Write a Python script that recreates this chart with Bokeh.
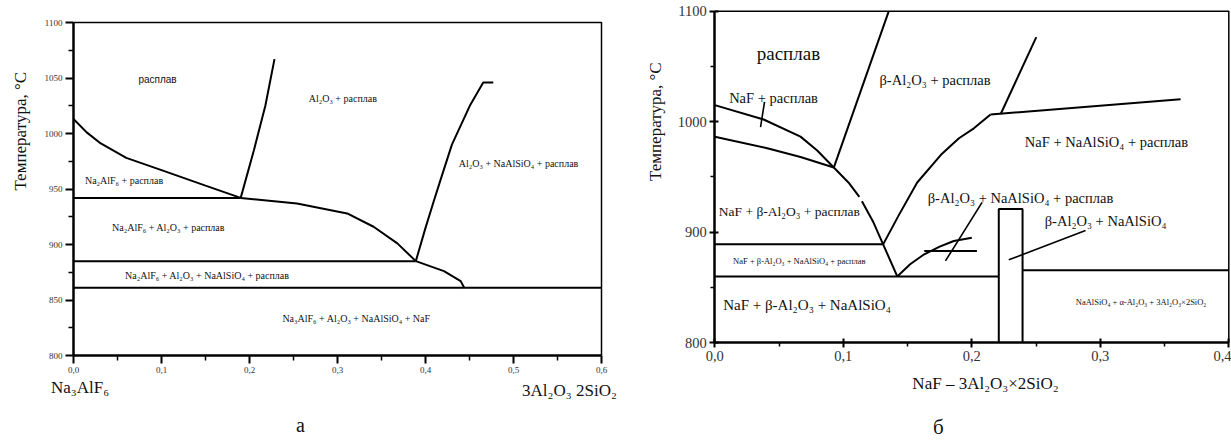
from math import pi
from bokeh.plotting import figure
from bokeh.layouts import row
from bokeh.models import FixedTicker, Label, Range1d, CustomJSTickFormatter
from bokeh.embed import file_html
from bokeh.resources import INLINE

SERIF = "Liberation Serif"
SANS = "Liberation Sans"

# ---------------- Panel а : Na3AlF6 - 3Al2O3 2SiO2 ----------------
a_xticks = [0.0, 0.1, 0.2, 0.3, 0.4, 0.5, 0.6]
a_xminor = [0.05, 0.15, 0.25, 0.35, 0.45, 0.55]
a_yticks = [800, 850, 900, 950, 1000, 1050, 1100]
a_yminor = [825, 875, 925, 975, 1025, 1075]

a_liq1_x = [0.0, 0.015, 0.031, 0.06, 0.1, 0.15, 0.19]
a_liq1_t = [1013, 1001, 991, 978, 967, 953, 942]
a_alk_x = [0.19, 0.205, 0.218, 0.2284]
a_alk_t = [942, 985, 1025, 1067]
a_h942_x = [0.0, 0.19]
a_h942_t = [942, 942]
a_liq2_x = [0.19, 0.254, 0.311, 0.341, 0.368, 0.389]
a_liq2_t = [942, 937, 928, 916, 901, 885]
a_h885_x = [0.0, 0.389]
a_h885_t = [885, 885]
a_liq3_x = [0.389, 0.40, 0.409, 0.417, 0.43, 0.451, 0.4656, 0.477]
a_liq3_t = [885, 915, 938, 958, 990, 1026, 1046, 1046]
a_sol_x = [0.389, 0.421, 0.44, 0.444]
a_sol_t = [885, 876, 867, 861]
a_h861_x = [0.0, 0.6]
a_h861_t = [861, 861]

a_lab_text = ["Na₂AlF₆ + расплав", "Na₂AlF₆ + Al₂O₃ + расплав",
              "Na₂AlF₆ + Al₂O₃ + NaAlSiO₄ + расплав", "Na₃AlF₆ + Al₂O₃ + NaAlSiO₄ + NaF",
              "Al₂O₃ + расплав", "Al₂O₃ + NaAlSiO₄ + расплав"]
a_lab_x = [0.0574, 0.108, 0.152, 0.3216, 0.306, 0.5057]
a_lab_t = [957.7, 915.3, 872, 833.3, 1031.5, 973]

# ---------------- Panel б : NaF - 3Al2O3x2SiO2 ----------------
b_xticks = [0.0, 0.1, 0.2, 0.3, 0.4]
b_xminor = [0.05, 0.15, 0.25, 0.35]
b_yticks = [800, 900, 1000, 1100]
b_yminor = [850, 950, 1050]

b_naf1_x = [0.0, 0.038, 0.0667, 0.0797, 0.0926, 0.104, 0.1125]
b_naf1_t = [1015, 1002, 986.5, 974, 958.5, 945, 932]
b_naf2_x = [0.1145, 0.123, 0.131, 0.142]
b_naf2_t = [928, 910, 889, 860]
b_low_x = [0.0, 0.0408, 0.0667, 0.0926]
b_low_t = [986.4, 976, 968, 958.5]
b_alk_x = [0.0926, 0.1354]
b_alk_t = [958.5, 1100]
b_tick_x = [0.0356, 0.0387]
b_tick_t = [995, 1018]
b_h889_x = [0.0, 0.131]
b_h889_t = [889, 889]
b_h860_x = [0.0, 0.221]
b_h860_t = [860, 860]
b_rect_x = [0.221, 0.221, 0.2395, 0.2395]
b_rect_t = [800, 921, 921, 800]
b_h865_x = [0.2395, 0.4]
b_h865_t = [865.5, 865.5]
b_bliq_x = [0.131, 0.143, 0.1575, 0.176, 0.19, 0.2016, 0.2146]
b_bliq_t = [889, 915, 945, 970, 985, 994, 1006.5]
b_h1007_x = [0.2146, 0.3625]
b_h1007_t = [1006.5, 1020.4]
b_up_x = [0.2225, 0.2502]
b_up_t = [1007, 1076.5]
b_small_x = [0.142, 0.152, 0.163, 0.175, 0.186, 0.2]
b_small_t = [860, 871, 880, 887, 892, 895]
b_h883_x = [0.163, 0.204]
b_h883_t = [883, 883]
b_lead1_x = [0.208, 0.1795]
b_lead1_t = [927, 874]
b_lead2_x = [0.2885, 0.2288]
b_lead2_t = [901.5, 875]

b_lab_text = ["расплав", "NaF + расплав", "β-Al₂O₃ + расплав", "NaF + NaAlSiO₄ + расплав",
              "NaF + β-Al₂O₃ + расплав", "β-Al₂O₃ + NaAlSiO₄ + расплав", "β-Al₂O₃ + NaAlSiO₄",
              "NaF + β-Al₂O₃ + NaAlSiO₄ + расплав", "NaF + β-Al₂O₃ + NaAlSiO₄",
              "NaAlSiO₄ + α-Al₂O₃ + 3Al₂O₃×2SiO₂"]
b_lab_x = [0.0573, 0.0457, 0.1714, 0.3048, 0.058, 0.2379, 0.3041, 0.0658, 0.0718, 0.3317]
b_lab_t = [1061.7, 1021, 1037.3, 982, 918.6, 931, 910, 873.5, 834.5, 836.4]
b_lab_size = ["19px", "14.5px", "14.5px", "14.5px", "13.5px", "14.5px", "14.5px", "8.5px", "15px", "8.5px"]

fmt = CustomJSTickFormatter(code="return tick.toFixed(1).replace('.', ',');")


def make_fig(width, x0_px, x_scale, xt, y0_px, y_scale, yt):
    """Figure whose frame fills the canvas; the panel's axes sit at fixed data locations."""
    xr = Range1d(xt[0] - x0_px / x_scale, xt[0] + (width - x0_px) / x_scale)
    yr = Range1d(yt[-1] - (441 - y0_px) / y_scale, yt[-1] + y0_px / y_scale)
    p = figure(width=width, height=441, output_backend="svg", toolbar_location=None,
               x_range=xr, y_range=yr, min_border=0, min_border_left=0, min_border_right=0,
               min_border_top=0, min_border_bottom=0)
    p.outline_line_color = None
    p.xgrid.visible = False
    p.ygrid.visible = False
    return p


def style(p, xt, xm, yt, ym, lab_size, tin, tout, mout, standoff):
    p.xaxis.ticker = FixedTicker(ticks=xt, minor_ticks=xm)
    p.yaxis.ticker = FixedTicker(ticks=yt, minor_ticks=ym)
    p.xaxis.formatter = fmt
    p.xaxis.fixed_location = yt[0]
    p.yaxis.fixed_location = xt[0]
    p.xaxis.bounds = (xt[0], xt[-1])
    p.yaxis.bounds = (yt[0], yt[-1])
    for ax in (p.xaxis, p.yaxis):
        ax.axis_line_width = 2.5
        ax.axis_line_color = "black"
        ax.major_tick_line_width = 2
        ax.minor_tick_line_width = 1.5
        ax.major_tick_in = tin
        ax.major_tick_out = tout
        ax.minor_tick_in = 0
        ax.minor_tick_out = mout
        ax.major_label_text_font = SERIF
        ax.major_label_text_font_size = lab_size
        ax.major_label_text_color = "#333333"
        ax.major_label_standoff = standoff
    # frame: top and right edges
    p.line([xt[0], xt[-1], xt[-1]], [yt[-1], yt[-1], yt[0]], line_width=1.5, line_color="black")


def add(p, xs, ts, w=2.0):
    p.line(xs, ts, line_width=w, line_color="black")


def lab(p, x, y, text, size, font=SERIF, angle=0.0):
    p.add_layout(Label(x=x, y=y, text=text, text_font=font, text_font_size=size,
                       text_align="center", text_baseline="middle", angle=angle,
                       text_color="#111111"))


# panel а: frame left at 73 px, 0.1 -> 88 px; top (1100) at 22 px, 1 degC -> 1.11 px
pa = make_fig(640, 73, 880, a_xticks, 22, 1.11, a_yticks)
style(pa, a_xticks, a_xminor, a_yticks, a_yminor, "9px", 0, 8, 5, 3)
for xs, ts in [(a_liq1_x, a_liq1_t), (a_alk_x, a_alk_t), (a_h942_x, a_h942_t),
               (a_liq2_x, a_liq2_t), (a_h885_x, a_h885_t), (a_liq3_x, a_liq3_t),
               (a_sol_x, a_sol_t), (a_h861_x, a_h861_t)]:
    add(pa, xs, ts)
lab(pa, 0.0955, 1048.6, "расплав", "10px", SANS)
for t, x, y in zip(a_lab_text, a_lab_x, a_lab_t):
    lab(pa, x, y, t, "10px")
lab(pa, -0.06, 1002, "Температура, °С", "17px", angle=pi / 2)
lab(pa, 0.0074, 771, "Na₃AlF₆", "17px")
lab(pa, 0.5636, 768.5, "3Al₂O₃ 2SiO₂", "17px")
lab(pa, 0.258, 737, "а", "20px")

# panel б: frame left at 714.3-640 px, 0.1 -> 128.5 px; top at 10.7 px, 1 degC -> 1.105 px
pb = make_fig(591, 74.3, 1285, b_xticks, 10.7, 1.105, b_yticks)
style(pb, b_xticks, b_xminor, b_yticks, b_yminor, "14.5px", 4, 5, 4, 3)
for xs, ts in [(b_naf1_x, b_naf1_t), (b_naf2_x, b_naf2_t), (b_low_x, b_low_t),
               (b_alk_x, b_alk_t), (b_h889_x, b_h889_t),
               (b_h860_x, b_h860_t), (b_rect_x, b_rect_t), (b_h865_x, b_h865_t),
               (b_bliq_x, b_bliq_t), (b_h1007_x, b_h1007_t), (b_up_x, b_up_t),
               (b_small_x, b_small_t), (b_h883_x, b_h883_t)]:
    add(pb, xs, ts)
for xs, ts in [(b_tick_x, b_tick_t), (b_lead1_x, b_lead1_t), (b_lead2_x, b_lead2_t)]:
    add(pb, xs, ts, 1.6)
for t, x, y, s in zip(b_lab_text, b_lab_x, b_lab_t, b_lab_size):
    lab(pb, x, y, t, s)
lab(pb, -0.046, 1000, "Температура, °С", "17px", angle=pi / 2)
lab(pb, 0.2107, 763, "NaF – 3Al₂O₃×2SiO₂", "17px")
lab(pb, 0.174, 724, "б", "21px")

layout = row(pa, pb, spacing=0)
open("out.html", "w").write(file_html(layout, INLINE))
